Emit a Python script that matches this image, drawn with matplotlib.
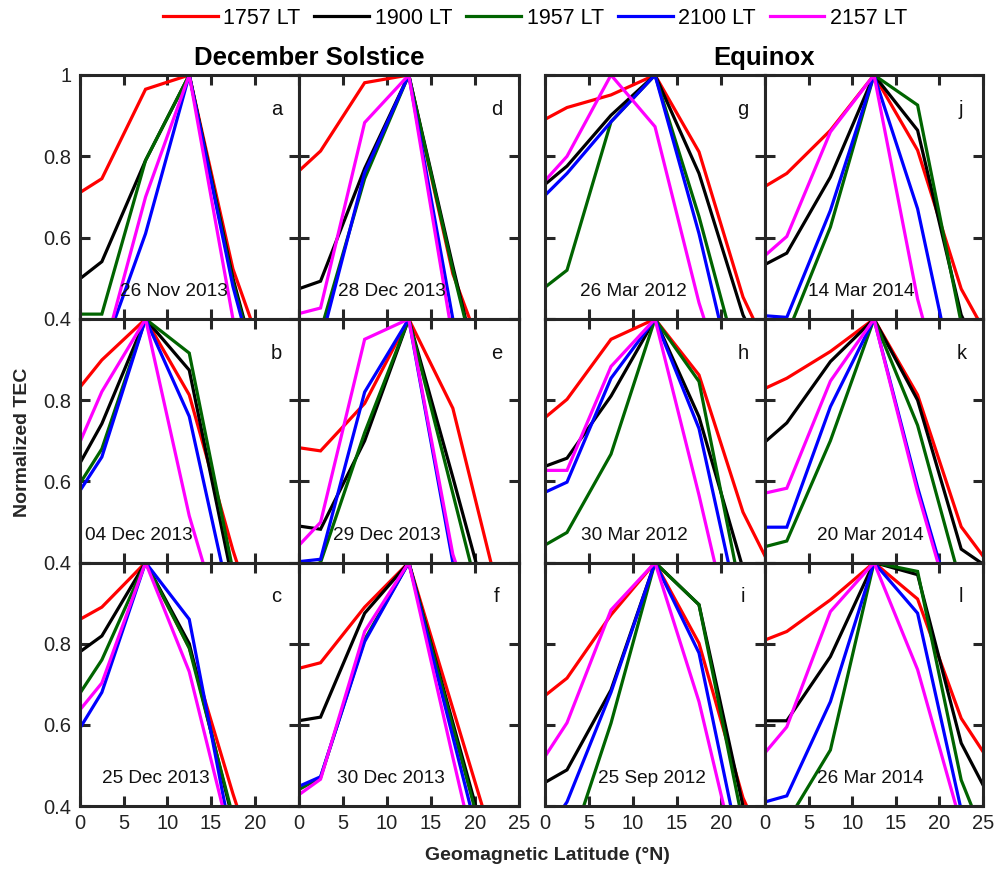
import matplotlib
matplotlib.use("Agg")
import matplotlib.pyplot as plt

plt.rcParams['font.family'] = ['Liberation Sans', 'DejaVu Sans']

# Geomagnetic latitude grid (°N)
lat = [0, 2.5, 7.5, 12.5, 17.5, 22.5, 25]

lt_labels = ["1757 LT", "1900 LT", "1957 LT", "2100 LT", "2157 LT"]
lt_colors = ["#ff0000", "#000000", "#006400", "#0000ff", "#ff00ff"]

# normalized TEC, one row per local time (1757, 1900, 1957, 2100, 2157)
tec_a = [[0.711, 0.745, 0.965, 1.0, 0.523, 0.22, 0.10],
         [0.499, 0.541, 0.790, 1.0, 0.500, 0.10, 0.05],
         [0.412, 0.412, 0.790, 1.0, 0.490, 0.10, 0.05],
         [0.280, 0.310, 0.610, 1.0, 0.480, 0.08, 0.05],
         [0.260, 0.300, 0.700, 1.0, 0.400, 0.05, 0.00]]
tec_b = [[0.832, 0.899, 1.0, 0.813, 0.430, 0.10, 0.05],
         [0.645, 0.742, 1.0, 0.874, 0.350, 0.10, 0.05],
         [0.595, 0.680, 1.0, 0.916, 0.380, 0.10, 0.05],
         [0.577, 0.660, 1.0, 0.760, 0.270, 0.10, 0.05],
         [0.697, 0.821, 1.0, 0.515, 0.150, 0.05, 0.00]]
tec_c = [[0.860, 0.890, 1.0, 0.790, 0.430, 0.10, 0.05],
         [0.780, 0.819, 1.0, 0.800, 0.365, 0.10, 0.05],
         [0.678, 0.760, 1.0, 0.789, 0.374, 0.10, 0.05],
         [0.592, 0.680, 1.0, 0.860, 0.300, 0.10, 0.05],
         [0.637, 0.703, 1.0, 0.731, 0.295, 0.10, 0.05]]
tec_d = [[0.763, 0.813, 0.981, 1.0, 0.511, 0.22, 0.10],
         [0.474, 0.493, 0.770, 1.0, 0.530, 0.08, 0.05],
         [0.330, 0.370, 0.745, 1.0, 0.520, 0.08, 0.05],
         [0.300, 0.340, 0.760, 1.0, 0.400, 0.10, 0.05],
         [0.413, 0.427, 0.883, 1.0, 0.350, 0.05, 0.00]]
tec_e = [[0.683, 0.675, 0.792, 1.0, 0.780, 0.340, 0.20],
         [0.490, 0.482, 0.700, 1.0, 0.610, 0.210, 0.10],
         [0.380, 0.400, 0.720, 1.0, 0.570, 0.140, 0.05],
         [0.402, 0.408, 0.820, 1.0, 0.400, 0.100, 0.05],
         [0.441, 0.499, 0.950, 1.0, 0.420, 0.100, 0.05]]
tec_f = [[0.739, 0.753, 0.890, 1.0, 0.640, 0.280, 0.10],
         [0.610, 0.619, 0.875, 1.0, 0.605, 0.210, 0.10],
         [0.440, 0.470, 0.810, 1.0, 0.595, 0.190, 0.10],
         [0.448, 0.472, 0.805, 1.0, 0.570, 0.140, 0.05],
         [0.427, 0.466, 0.830, 1.0, 0.520, 0.050, 0.00]]
tec_g = [[0.891, 0.920, 0.951, 1.0, 0.811, 0.454, 0.34],
         [0.731, 0.776, 0.901, 1.0, 0.758, 0.410, 0.30],
         [0.478, 0.520, 0.885, 1.0, 0.652, 0.250, 0.10],
         [0.704, 0.758, 0.885, 1.0, 0.610, 0.150, 0.05],
         [0.740, 0.800, 1.000, 0.873, 0.440, 0.100, 0.05]]
tec_h = [[0.757, 0.802, 0.950, 1.0, 0.862, 0.524, 0.416],
         [0.637, 0.657, 0.810, 1.0, 0.759, 0.385, 0.20],
         [0.443, 0.474, 0.667, 1.0, 0.846, 0.300, 0.10],
         [0.573, 0.598, 0.854, 1.0, 0.730, 0.235, 0.10],
         [0.627, 0.627, 0.883, 1.0, 0.566, 0.100, 0.05]]
tec_i = [[0.672, 0.715, 0.871, 1.0, 0.801, 0.420, 0.30],
         [0.458, 0.489, 0.686, 1.0, 0.896, 0.400, 0.30],
         [0.200, 0.275, 0.604, 1.0, 0.896, 0.357, 0.25],
         [0.330, 0.410, 0.680, 1.0, 0.777, 0.255, 0.20],
         [0.522, 0.605, 0.883, 1.0, 0.657, 0.200, 0.10]]
tec_j = [[0.726, 0.758, 0.864, 1.0, 0.815, 0.474, 0.377],
         [0.534, 0.562, 0.749, 1.0, 0.864, 0.410, 0.30],
         [0.330, 0.360, 0.626, 1.0, 0.926, 0.390, 0.25],
         [0.408, 0.404, 0.667, 1.0, 0.671, 0.170, 0.10],
         [0.556, 0.603, 0.860, 1.0, 0.449, 0.050, 0.00]]
tec_k = [[0.829, 0.854, 0.920, 1.0, 0.813, 0.488, 0.416],
         [0.697, 0.744, 0.895, 1.0, 0.800, 0.433, 0.396],
         [0.439, 0.453, 0.700, 1.0, 0.738, 0.345, 0.30],
         [0.487, 0.487, 0.784, 1.0, 0.585, 0.215, 0.10],
         [0.571, 0.583, 0.847, 1.0, 0.573, 0.200, 0.10]]
tec_l = [[0.809, 0.830, 0.908, 1.0, 0.910, 0.616, 0.534],
         [0.610, 0.610, 0.768, 1.0, 0.970, 0.555, 0.452],
         [0.330, 0.360, 0.538, 1.0, 0.978, 0.464, 0.330],
         [0.410, 0.425, 0.657, 1.0, 0.875, 0.390, 0.30],
         [0.531, 0.595, 0.879, 1.0, 0.736, 0.354, 0.30]]

# columns: Dec solstice (a-c, d-f), equinox (g-i, j-l)
panels = [[tec_a, tec_d, tec_g, tec_j],
          [tec_b, tec_e, tec_h, tec_k],
          [tec_c, tec_f, tec_i, tec_l]]
letters = [["a", "d", "g", "j"], ["b", "e", "h", "k"], ["c", "f", "i", "l"]]
dates = [["26 Nov 2013", "28 Dec 2013", "26 Mar 2012", "14 Mar 2014"],
         ["04 Dec 2013", "29 Dec 2013", "30 Mar 2012", "20 Mar 2014"],
         ["25 Dec 2013", "30 Dec 2013", "25 Sep 2012", "26 Mar 2014"]]
date_x = [[0.43, 0.425, 0.403, 0.44],
          [0.27, 0.40, 0.405, 0.485],
          [0.345, 0.42, 0.487, 0.485]]

W, H = 1007, 869
fig = plt.figure(figsize=(W / 100, H / 100), dpi=100)

col_edges = [(80, 298.5), (298.5, 519), (545, 765), (765, 983)]
row_edges = [(75, 319), (319, 562.5), (562.5, 806)]
spine_c = "#262626"

handles = []
for r in range(3):
    for c in range(4):
        x0, x1 = col_edges[c]
        y0, y1 = row_edges[r]
        ax = fig.add_axes([x0 / W, 1 - y1 / H, (x1 - x0) / W, (y1 - y0) / H])
        for k, series in enumerate(panels[r][c]):
            ln, = ax.plot(lat, series, color=lt_colors[k], lw=2.3,
                          label=lt_labels[k], solid_joinstyle='miter')
            if r == 0 and c == 0:
                handles.append(ln)
        ax.set_xlim(0, 25)
        ax.set_ylim(0.4, 1.0)
        ax.set_xticks([0, 5, 10, 15, 20, 25])
        ax.set_yticks([0.4, 0.6, 0.8, 1.0])
        for s in ax.spines.values():
            s.set_linewidth(2.2)
            s.set_color(spine_c)
        ax.tick_params(direction='in', length=7, width=2.2, color=spine_c,
                       top=True, right=True, labelsize=14.5,
                       labelcolor="#222222", pad=6)
        if c == 0:
            ylab = ["0.4", "0.6", "0.8", "1" if r == 0 else ""]
            ax.set_yticklabels(ylab)
        else:
            ax.set_yticklabels([])
        if r == 2:
            xlab = ["0", "5", "10", "15", "20", "25" if c in (1, 3) else ""]
            ax.set_xticklabels(xlab)
        else:
            ax.set_xticklabels([])
        ax.text(0.9, 0.86, letters[r][c], transform=ax.transAxes,
                ha='center', va='center', fontsize=14.5, color="#111111")
        ax.text(date_x[r][c], 0.112, dates[r][c], transform=ax.transAxes,
                ha='center', va='center', fontsize=13.7, color="#111111")

fig.text(309 / W, 1 - 58 / H, "December Solstice", ha='center', va='center',
         fontsize=18.5, fontweight='bold')
fig.text(764 / W, 1 - 58 / H, "Equinox", ha='center', va='center',
         fontsize=18.5, fontweight='bold')
fig.text(547 / W, 1 - 855 / H, "Geomagnetic Latitude (°N)", ha='center',
         va='center', fontsize=14, fontweight='bold', color="#262626")
fig.text(23 / W, 1 - 442 / H, "Normalized TEC", ha='center', va='center',
         rotation=90, fontsize=14, fontweight='bold', color="#262626")

fig.legend(handles, lt_labels, loc='center', bbox_to_anchor=(535 / W, 1 - 18 / H),
           ncol=5, frameon=False, fontsize=15.5, handlelength=2.55,
           handletextpad=0.25, columnspacing=0.65)

fig.savefig("out.png", dpi=100)
